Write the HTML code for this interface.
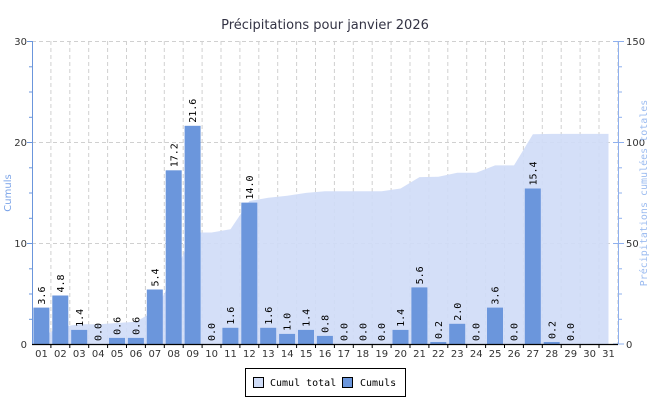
<!DOCTYPE html>
<html><head><meta charset="utf-8"><style>
body{margin:0;background:#fff}
svg{display:block;font-family:"DejaVu Sans","Liberation Sans",sans-serif}
.v{font-family:"DejaVu Sans Mono","Liberation Mono",monospace;font-size:10px;fill:#000}
.t{font-size:10px;fill:#333}
</style></head><body>
<svg width="650" height="400" viewBox="0 0 650 400" xmlns="http://www.w3.org/2000/svg">
<rect width="650" height="400" fill="#fff"/>
<text x="325" y="29" text-anchor="middle" font-size="13" fill="#334">Précipitations pour janvier 2026</text>
<g stroke="#d0d0d0" stroke-dasharray="4,3" stroke-width="1">
<line x1="32" y1="41.5" x2="618" y2="41.5"/><line x1="32" y1="142.5" x2="618" y2="142.5"/><line x1="32" y1="243.5" x2="618" y2="243.5"/>
<line x1="50.9" y1="41" x2="50.9" y2="344"/><line x1="69.8" y1="41" x2="69.8" y2="344"/><line x1="88.7" y1="41" x2="88.7" y2="344"/><line x1="107.6" y1="41" x2="107.6" y2="344"/><line x1="126.5" y1="41" x2="126.5" y2="344"/><line x1="145.4" y1="41" x2="145.4" y2="344"/><line x1="164.3" y1="41" x2="164.3" y2="344"/><line x1="183.2" y1="41" x2="183.2" y2="344"/><line x1="202.1" y1="41" x2="202.1" y2="344"/><line x1="221" y1="41" x2="221" y2="344"/><line x1="239.9" y1="41" x2="239.9" y2="344"/><line x1="258.8" y1="41" x2="258.8" y2="344"/><line x1="277.7" y1="41" x2="277.7" y2="344"/><line x1="296.6" y1="41" x2="296.6" y2="344"/><line x1="315.5" y1="41" x2="315.5" y2="344"/><line x1="334.4" y1="41" x2="334.4" y2="344"/><line x1="353.3" y1="41" x2="353.3" y2="344"/><line x1="372.2" y1="41" x2="372.2" y2="344"/><line x1="391.1" y1="41" x2="391.1" y2="344"/><line x1="410" y1="41" x2="410" y2="344"/><line x1="428.9" y1="41" x2="428.9" y2="344"/><line x1="447.8" y1="41" x2="447.8" y2="344"/><line x1="466.7" y1="41" x2="466.7" y2="344"/><line x1="485.6" y1="41" x2="485.6" y2="344"/><line x1="504.5" y1="41" x2="504.5" y2="344"/><line x1="523.4" y1="41" x2="523.4" y2="344"/><line x1="542.3" y1="41" x2="542.3" y2="344"/><line x1="561.2" y1="41" x2="561.2" y2="344"/><line x1="580.1" y1="41" x2="580.1" y2="344"/><line x1="599" y1="41" x2="599" y2="344"/><line x1="617.9" y1="41" x2="617.9" y2="344"/>
</g>
<polygon fill="#cfdcf7" fill-opacity="0.9" points="41.5,344 41.5,336.7 60.4,327 79.3,324.2 98.2,324.2 117.1,323 136,321.8 154.9,310.9 173.8,276.1 192.7,232.5 211.6,232.5 230.5,229.3 249.4,201 268.3,197.8 287.2,195.7 306.1,192.9 325,191.3 343.9,191.3 362.8,191.3 381.7,191.3 400.6,188.5 419.5,177.1 438.4,176.7 457.3,172.7 476.2,172.7 495.1,165.4 514,165.4 532.9,134.3 551.8,133.9 570.7,133.9 589.6,133.9 608.5,133.9 608.5,344"/>
<g fill="#6b96dc">
<rect x="33.4" y="307.6" width="16" height="36.4"/><rect x="52.3" y="295.5" width="16" height="48.5"/><rect x="71.2" y="329.9" width="16" height="14.1"/><rect x="109" y="337.9" width="16" height="6.1"/><rect x="127.9" y="337.9" width="16" height="6.1"/><rect x="146.8" y="289.5" width="16" height="54.5"/><rect x="165.7" y="170.3" width="16" height="173.7"/><rect x="184.6" y="125.8" width="16" height="218.2"/><rect x="222.4" y="327.8" width="16" height="16.2"/><rect x="241.3" y="202.6" width="16" height="141.4"/><rect x="260.2" y="327.8" width="16" height="16.2"/><rect x="279.1" y="333.9" width="16" height="10.1"/><rect x="298" y="329.9" width="16" height="14.1"/><rect x="316.9" y="335.9" width="16" height="8.1"/><rect x="392.5" y="329.9" width="16" height="14.1"/><rect x="411.4" y="287.4" width="16" height="56.6"/><rect x="430.3" y="342" width="16" height="2"/><rect x="449.2" y="323.8" width="16" height="20.2"/><rect x="487" y="307.6" width="16" height="36.4"/><rect x="524.8" y="188.5" width="16" height="155.5"/><rect x="543.7" y="342" width="16" height="2"/>
</g>
<g class="v">
<text transform="translate(45,304.6) rotate(-90)">3.6</text>
<text transform="translate(63.9,292.5) rotate(-90)">4.8</text>
<text transform="translate(82.8,326.9) rotate(-90)">1.4</text>
<text transform="translate(101.7,341) rotate(-90)">0.0</text>
<text transform="translate(120.6,334.9) rotate(-90)">0.6</text>
<text transform="translate(139.5,334.9) rotate(-90)">0.6</text>
<text transform="translate(158.4,286.5) rotate(-90)">5.4</text>
<text transform="translate(177.3,167.3) rotate(-90)">17.2</text>
<text transform="translate(196.2,122.8) rotate(-90)">21.6</text>
<text transform="translate(215.1,341) rotate(-90)">0.0</text>
<text transform="translate(234,324.8) rotate(-90)">1.6</text>
<text transform="translate(252.9,199.6) rotate(-90)">14.0</text>
<text transform="translate(271.8,324.8) rotate(-90)">1.6</text>
<text transform="translate(290.7,330.9) rotate(-90)">1.0</text>
<text transform="translate(309.6,326.9) rotate(-90)">1.4</text>
<text transform="translate(328.5,332.9) rotate(-90)">0.8</text>
<text transform="translate(347.4,341) rotate(-90)">0.0</text>
<text transform="translate(366.3,341) rotate(-90)">0.0</text>
<text transform="translate(385.2,341) rotate(-90)">0.0</text>
<text transform="translate(404.1,326.9) rotate(-90)">1.4</text>
<text transform="translate(423,284.4) rotate(-90)">5.6</text>
<text transform="translate(441.9,339) rotate(-90)">0.2</text>
<text transform="translate(460.8,320.8) rotate(-90)">2.0</text>
<text transform="translate(479.7,341) rotate(-90)">0.0</text>
<text transform="translate(498.6,304.6) rotate(-90)">3.6</text>
<text transform="translate(517.5,341) rotate(-90)">0.0</text>
<text transform="translate(536.4,185.5) rotate(-90)">15.4</text>
<text transform="translate(555.3,339) rotate(-90)">0.2</text>
<text transform="translate(574.2,341) rotate(-90)">0.0</text>
</g>
<g stroke="#6b96dc" stroke-width="1">
<line x1="32.5" y1="41" x2="32.5" y2="344"/>
<line x1="27" y1="41.5" x2="32" y2="41.5"/><line x1="29" y1="66.8" x2="32" y2="66.8"/><line x1="29" y1="92" x2="32" y2="92"/><line x1="29" y1="117.3" x2="32" y2="117.3"/><line x1="27" y1="142.5" x2="32" y2="142.5"/><line x1="29" y1="167.8" x2="32" y2="167.8"/><line x1="29" y1="193" x2="32" y2="193"/><line x1="29" y1="218.3" x2="32" y2="218.3"/><line x1="27" y1="243.5" x2="32" y2="243.5"/><line x1="29" y1="268.8" x2="32" y2="268.8"/><line x1="29" y1="294" x2="32" y2="294"/><line x1="29" y1="319.3" x2="32" y2="319.3"/>
</g>
<g stroke="#8fb0ee" stroke-width="1">
<line x1="618.5" y1="41" x2="618.5" y2="344"/>
<line x1="613" y1="41.5" x2="624" y2="41.5"/><line x1="619" y1="66.8" x2="622" y2="66.8"/><line x1="619" y1="92" x2="622" y2="92"/><line x1="619" y1="117.3" x2="622" y2="117.3"/><line x1="613" y1="142.5" x2="624" y2="142.5"/><line x1="619" y1="167.8" x2="622" y2="167.8"/><line x1="619" y1="193" x2="622" y2="193"/><line x1="619" y1="218.3" x2="622" y2="218.3"/><line x1="613" y1="243.5" x2="624" y2="243.5"/><line x1="619" y1="268.8" x2="622" y2="268.8"/><line x1="619" y1="294" x2="622" y2="294"/><line x1="619" y1="319.3" x2="622" y2="319.3"/><line x1="613" y1="344" x2="624" y2="344"/>
</g>
<line x1="32" y1="344.5" x2="618" y2="344.5" stroke="#000" stroke-width="1.3"/>
<g stroke="#000" stroke-width="1">
<line x1="50.9" y1="344" x2="50.9" y2="348"/><line x1="69.8" y1="344" x2="69.8" y2="348"/><line x1="88.7" y1="344" x2="88.7" y2="348"/><line x1="107.6" y1="344" x2="107.6" y2="348"/><line x1="126.5" y1="344" x2="126.5" y2="348"/><line x1="145.4" y1="344" x2="145.4" y2="348"/><line x1="164.3" y1="344" x2="164.3" y2="348"/><line x1="183.2" y1="344" x2="183.2" y2="348"/><line x1="202.1" y1="344" x2="202.1" y2="348"/><line x1="221" y1="344" x2="221" y2="348"/><line x1="239.9" y1="344" x2="239.9" y2="348"/><line x1="258.8" y1="344" x2="258.8" y2="348"/><line x1="277.7" y1="344" x2="277.7" y2="348"/><line x1="296.6" y1="344" x2="296.6" y2="348"/><line x1="315.5" y1="344" x2="315.5" y2="348"/><line x1="334.4" y1="344" x2="334.4" y2="348"/><line x1="353.3" y1="344" x2="353.3" y2="348"/><line x1="372.2" y1="344" x2="372.2" y2="348"/><line x1="391.1" y1="344" x2="391.1" y2="348"/><line x1="410" y1="344" x2="410" y2="348"/><line x1="428.9" y1="344" x2="428.9" y2="348"/><line x1="447.8" y1="344" x2="447.8" y2="348"/><line x1="466.7" y1="344" x2="466.7" y2="348"/><line x1="485.6" y1="344" x2="485.6" y2="348"/><line x1="504.5" y1="344" x2="504.5" y2="348"/><line x1="523.4" y1="344" x2="523.4" y2="348"/><line x1="542.3" y1="344" x2="542.3" y2="348"/><line x1="561.2" y1="344" x2="561.2" y2="348"/><line x1="580.1" y1="344" x2="580.1" y2="348"/><line x1="599" y1="344" x2="599" y2="348"/>
</g>
<g class="t" text-anchor="end">
<text x="27" y="45">30</text><text x="27" y="146">20</text><text x="27" y="247">10</text><text x="27" y="348">0</text>
</g>
<g class="t" text-anchor="start">
<text x="626" y="45">150</text><text x="626" y="146">100</text><text x="626" y="247">50</text><text x="626" y="348">0</text>
</g>
<g class="t" text-anchor="middle">
<text x="41.5" y="357">01</text><text x="60.4" y="357">02</text><text x="79.3" y="357">03</text><text x="98.2" y="357">04</text><text x="117.1" y="357">05</text><text x="136" y="357">06</text><text x="154.9" y="357">07</text><text x="173.8" y="357">08</text><text x="192.7" y="357">09</text><text x="211.6" y="357">10</text><text x="230.5" y="357">11</text><text x="249.4" y="357">12</text><text x="268.3" y="357">13</text><text x="287.2" y="357">14</text><text x="306.1" y="357">15</text><text x="325" y="357">16</text><text x="343.9" y="357">17</text><text x="362.8" y="357">18</text><text x="381.7" y="357">19</text><text x="400.6" y="357">20</text><text x="419.5" y="357">21</text><text x="438.4" y="357">22</text><text x="457.3" y="357">23</text><text x="476.2" y="357">24</text><text x="495.1" y="357">25</text><text x="514" y="357">26</text><text x="532.9" y="357">27</text><text x="551.8" y="357">28</text><text x="570.7" y="357">29</text><text x="589.6" y="357">30</text><text x="608.5" y="357">31</text>
</g>
<text transform="translate(11,193) rotate(-90)" text-anchor="middle" font-size="10" fill="#7aa3e8">Cumuls</text>
<text transform="translate(647,193) rotate(-90)" text-anchor="middle" class="v" style="fill:#9cbcf0;font-size:10px">Précipitations cumulées totales</text>
<rect x="245.5" y="368.5" width="160" height="28" fill="#fff" stroke="#000"/>
<rect x="253.5" y="377.5" width="10" height="10" fill="#cfdcf7" stroke="#000"/>
<text x="270" y="386" class="v">Cumul total</text>
<rect x="342.5" y="377.5" width="10" height="10" fill="#6b96dc" stroke="#000"/>
<text x="360" y="386" class="v">Cumuls</text>
</svg>
</body></html>
